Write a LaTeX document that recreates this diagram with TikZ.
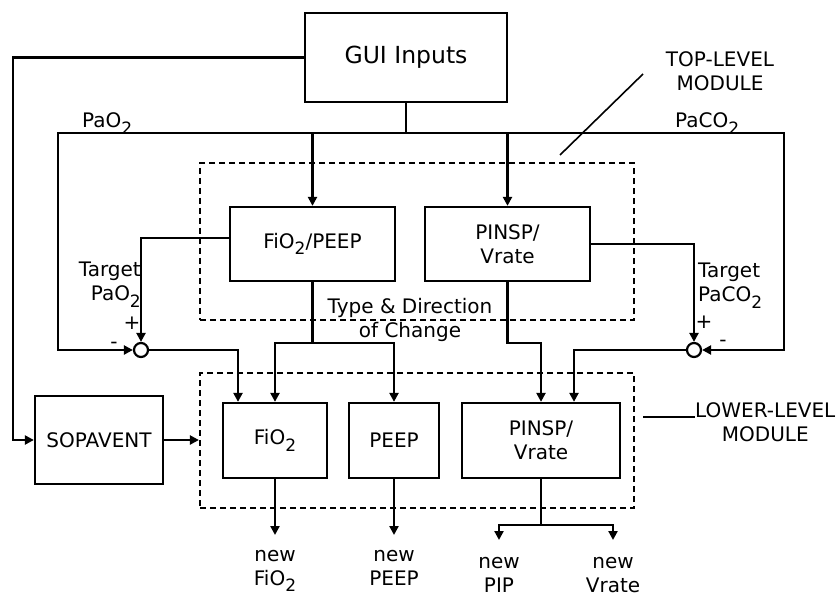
\documentclass[tikz,border=0pt]{standalone}
\usepackage{fontspec}
\setmainfont{DejaVu Sans}
\usetikzlibrary{arrows.meta,calc}
\newcommand\sbs[1]{\raisebox{-0.32em}{\fontsize{17}{17}\selectfont #1}}
\begin{document}
\begin{tikzpicture}[x=1pt,y=-1pt,
  every node/.style={font=\fontsize{20}{24}\selectfont},
  box/.style={draw, line width=2.3pt, inner sep=0pt, align=center},
  dbox/.style={draw, line width=2.2pt, dash pattern=on 6pt off 4pt, inner sep=0pt},
  ln/.style={line width=2.3pt},
  arr/.style={ln, -{Triangle[length=9pt,width=9pt]}},
  sumj/.style={draw, circle, line width=2.2pt, minimum size=14pt, inner sep=0pt},
  lbl/.style={inner sep=0pt, align=center},
  lead/.style={line width=1.6pt}
]
\fill[white] (0,0) rectangle (840,596);
\useasboundingbox (0,0) rectangle (840,596);

% dashed module boxes
\node[dbox, minimum width=434pt, minimum height=157pt] (topbox) at (417,241.5) {};
\node[dbox, minimum width=434pt, minimum height=135pt] (lowbox) at (417,440.5) {};

% blocks
\node[box, minimum width=202pt, minimum height=89pt, font=\fontsize{23.5}{28}\selectfont] (gui) at (406,57.5) {GUI Inputs};
\node[box, minimum width=165pt, minimum height=74pt] (tfp) at (312.5,244) {FiO\sbs{2}/PEEP};
\node[box, minimum width=165pt, minimum height=74pt] (tpv) at (507.5,244) {PINSP/\\Vrate};
\node[box, minimum width=128pt, minimum height=88pt] (sop) at (99,440) {SOPAVENT};
\node[box, minimum width=104pt, minimum height=75pt] (lfio) at (275,440.5) {FiO\sbs{2}};
\node[box, minimum width=90pt, minimum height=75pt] (lpeep) at (394,440.5) {PEEP};
\node[box, minimum width=158pt, minimum height=75pt] (lpv) at (541,440.5) {PINSP/\\Vrate};
\node[sumj] (cl) at (141,350) {};
\node[sumj] (cr) at (694,350) {};

% labels
\node[lbl, anchor=base west] (pao) at (82,128) {PaO\sbs{2}};
\node[lbl, anchor=base west] (paco) at (675,128) {PaCO\sbs{2}};
\node[lbl] (toplbl) at (720,71) {TOP-LEVEL\\MODULE};
\node[lbl, align=right, anchor=north east] (tpao) at (141,262) {Target\\PaO\sbs{2}};
\node[lbl, align=left, anchor=north west] (tpaco) at (698,263) {Target\\PaCO\sbs{2}};
\node[lbl] (pl1) at (132,323) {+};
\node[lbl] (mi1) at (114,345) {-};
\node[lbl] (pl2) at (704,322) {+};
\node[lbl] (mi2) at (723,343) {-};
\node[lbl] (tdc) at (410,320) {Type \& Direction\\of Change};
\node[lbl, anchor=west] (lowlbl) at (695,422) {LOWER-LEVEL\\MODULE};
\node[lbl, anchor=north] (nfio) at (275,550) {new\\FiO\sbs{2}};
\node[lbl, anchor=north] (npeep) at (394,550) {new\\PEEP};
\node[lbl, anchor=north] (npip) at (499,557) {new\\PIP};
\node[lbl, anchor=north] (nvr) at (613,557) {new\\Vrate};

% connectors
\coordinate (bl) at (58,133);
\coordinate (br) at (784,133);
\draw[arr] (gui.west) -- (13,57.5) |- (sop.west);
\draw[ln] (gui.south) -- (gui.south |- bl);
\draw[ln, line cap=rect] (bl) -- (br);
\draw[arr] (tfp.north |- bl) -- (tfp.north);
\draw[arr] (tpv.north |- bl) -- (tpv.north);
\draw[arr] (bl) |- (cl.west);
\draw[arr] (br) |- (cr.east);
\draw[arr] ([yshift=6pt]tfp.west) -| (cl.north);
\draw[arr] (tpv.east) -| (cr.north);
\draw[arr] (cl.east) -| ([xshift=-37pt]lfio.north);
\coordinate (s1) at (312.5,343);
\draw[ln] (tfp.south) -- (s1);
\draw[arr] (s1) -| (lfio.north);
\draw[arr] (s1) -| (lpeep.north);
\coordinate (s2) at (507.5,343);
\draw[arr] (tpv.south) -- (s2) -| (lpv.north);
\draw[arr] (cr.west) -| ([xshift=33pt]lpv.north);
\draw[arr] (sop.east) -- (sop.east -| lowbox.west);
\draw[arr] (lfio.south) -- ([yshift=15pt]nfio.north);
\draw[arr] (lpeep.south) -- ([yshift=15pt]npeep.north);
\coordinate (s3) at (541,525);
\draw[ln] (lpv.south) -- (s3);
\draw[arr] (s3) -| ([yshift=17pt]npip.north);
\draw[arr] (s3) -| ([yshift=17pt]nvr.north);

% leader lines
\coordinate (toptip) at (560,155);
\coordinate (topend) at (643,74);
\draw[lead] (toptip) -- (topend);
\coordinate (lowtip) at (643,417);
\draw[lead] (lowtip) -- (lowtip -| lowlbl.west);
\end{tikzpicture}
\end{document}
